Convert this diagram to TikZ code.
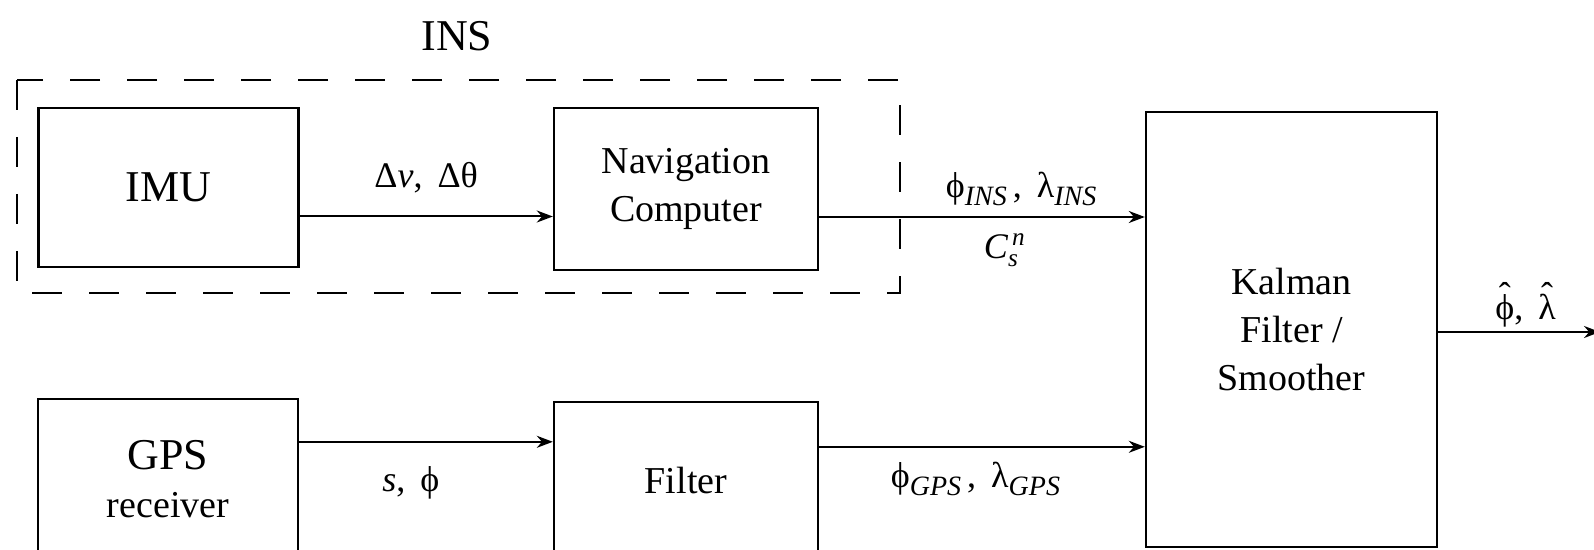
\documentclass[tikz,border=0pt]{standalone}
\usepackage{fontspec}
\setmainfont{Liberation Serif}
\usetikzlibrary{arrows.meta}

\newcommand{\lowidx}[1]{\raisebox{-4pt}{\fontsize{14}{14}\selectfont\textit{#1}}}
\newcommand{\tallhat}[1]{\ooalign{#1\cr\hidewidth\raisebox{6pt}{ˆ}\hidewidth\cr}}

\begin{document}
\begin{tikzpicture}[x=0.5pt, y=-0.5pt,
    block/.style={draw, line width=1.2pt, align=center, inner sep=0pt,
        font=\fontsize{19}{24}\selectfont},
    flow/.style={->, line width=1pt},
    lbl/.style={inner sep=0pt, font=\fontsize{18}{22}\selectfont},
    >={Stealth[length=8pt, width=6pt]}]

\useasboundingbox (0,0) rectangle (1594,550);

% INS (marco discontinuo)
\draw[line width=1pt, dash pattern=on 15pt off 13.5pt] (17,80) rectangle (900,293);
\node[font=\fontsize{22}{26}\selectfont] (ins) at (457,36) {INS};

% Bloques
\node[block, minimum width=130pt, minimum height=79.5pt,
    font=\fontsize{22}{26}\selectfont] (imu) at (168.5,187.5) {IMU};
\node[block, minimum width=132pt, minimum height=81pt] (nav) at (686,189) {Navigation\\Computer};
\node[block, minimum width=145.5pt, minimum height=217.5pt] (kalman) at (1291.5,329.5) {Kalman\\Filter /\\Smoother};
\node[block, minimum width=130pt, minimum height=80.5pt] (gps) at (168,479.5)
    {{\fontsize{22}{26}\selectfont GPS}\\receiver};
\node[block, minimum width=132pt, minimum height=79pt] (filter) at (686,481) {Filter};

% Salida
\coordinate (out) at (1600,332);

% Conexiones
\draw[flow] ([yshift=-14.5pt]imu.east) -- ([yshift=-14.5pt]imu.east -| nav.west)
    node[lbl, midway, above=11pt] {Δ\textit{v}, \,Δθ};
\draw[flow] ([yshift=-14pt]nav.east) -- ([yshift=-14pt]nav.east -| kalman.west)
    node[lbl, pos=0.62, above=5pt] {ϕ\lowidx{INS}\,, \,λ\lowidx{INS}}
    node[lbl, pos=0.57, below=8pt] {\textit{C}$_{\mathit{s}}^{\,\mathit{n}}$};
\draw[flow] ([yshift=-22pt]gps.north east) -- ([yshift=-22pt]gps.north east -| filter.west)
    node[lbl, pos=0.44, below=12pt] {\textit{s}, \,ϕ};
\draw[flow] ([yshift=-23pt]filter.north east) -- ([yshift=-23pt]filter.north east -| kalman.west)
    node[lbl, pos=0.48, below=7pt] {ϕ\lowidx{GPS}\,, \,λ\lowidx{GPS}};
\draw[flow] (kalman.east |- out) -- (out)
    node[lbl, pos=0.54, above=3pt] {\tallhat{ϕ}, \,\tallhat{λ}};

\end{tikzpicture}
\end{document}
